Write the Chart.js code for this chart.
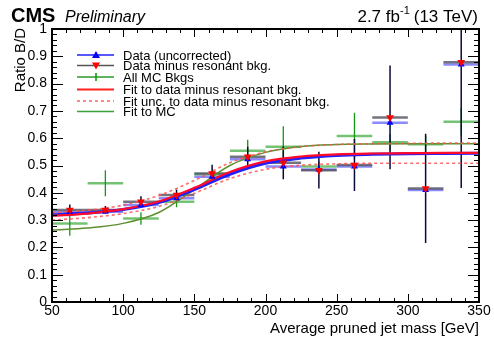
<!DOCTYPE html>
<html>
<head>
<meta charset="utf-8">
<script src="https://cdn.jsdelivr.net/npm/chart.js@4/dist/chart.umd.min.js"></script>
<style>
html, body { margin: 0; padding: 0; background: #fff; }
</style>
</head>
<body>
<canvas id="ratioChart" width="494" height="337"></canvas>
<script>
// bins of average pruned jet mass (GeV)
const binLow = [50, 75, 100, 125, 150, 175, 200, 225, 250, 275, 300, 325];
const binHigh = [75, 100, 125, 150, 175, 200, 225, 250, 275, 300, 325, 350];
const binCenter = [62.5, 87.5, 112.5, 137.5, 162.5, 187.5, 212.5, 237.5, 262.5, 287.5, 312.5, 337.5];

// ratio B/D values
const dataUncorr = [0.330, 0.331, 0.355, 0.380, 0.459, 0.523, 0.496, 0.485, 0.496, 0.657, 0.410, 0.870];
const dataMinusRes = [0.337, 0.337, 0.367, 0.392, 0.471, 0.532, 0.510, 0.483, 0.502, 0.676, 0.416, 0.878];
const dataErr = [0.020, 0.015, 0.020, 0.020, 0.032, 0.037, 0.060, 0.067, 0.095, 0.190, 0.200, 0.460];
const mcBkg = [0.288, 0.435, 0.306, 0.367, 0.468, 0.554, 0.569, 0.496, 0.608, 0.585, 0.578, 0.660];
const mcErr = [0.045, 0.048, 0.023, 0.020, 0.015, 0.040, 0.075, 0.020, 0.085, 0.030, 0.030, 0.050];

// fit curves
const fitMass = [50, 75, 100, 125, 150, 175, 200, 225, 250, 275, 300, 325, 350];
const fitData = [0.316, 0.324, 0.340, 0.368, 0.418, 0.476, 0.515, 0.533, 0.541, 0.544, 0.545, 0.546, 0.546];
const fitUncorr = [0.320, 0.326, 0.339, 0.364, 0.412, 0.468, 0.508, 0.527, 0.537, 0.541, 0.543, 0.544, 0.545];
const fitUp = [0.327, 0.336, 0.355, 0.390, 0.445, 0.510, 0.550, 0.569, 0.577, 0.580, 0.581, 0.582, 0.582];
const fitDown = [0.300, 0.309, 0.324, 0.350, 0.398, 0.452, 0.486, 0.501, 0.506, 0.508, 0.508, 0.508, 0.508];
const fitMC = [0.264, 0.271, 0.288, 0.328, 0.412, 0.500, 0.548, 0.570, 0.577, 0.579, 0.580, 0.580, 0.580];

// axis ticks
const xTicks = [50, 100, 150, 200, 250, 300, 350];
const yTicks = [0, 0.1, 0.2, 0.3, 0.4, 0.5, 0.6, 0.7, 0.8, 0.9, 1];

const FONT = '"Liberation Sans", Arial, Helvetica, sans-serif';

// helpers turning arrays into segment lists (null breaks the line)
function hBars(vals) {
    const pts = [];
    vals.forEach((v, i) => {
        pts.push({x: binLow[i], y: v}, {x: binHigh[i], y: v}, {x: binHigh[i], y: null});
    });
    return pts;
}
function vBars(vals, errs) {
    const pts = [];
    vals.forEach((v, i) => {
        pts.push({x: binCenter[i], y: v - errs[i]}, {x: binCenter[i], y: v + errs[i]}, {x: binCenter[i], y: null});
    });
    return pts;
}
function pts(xs, ys) {
    return xs.map((x, i) => ({x: x, y: ys[i]}));
}

function segLine(data, color, width, order) {
    return {data: data, showLine: true, borderColor: color, borderWidth: width,
        pointRadius: 0, spanGaps: false, order: order, tension: 0};
}
function curve(ys, color, width, dash, order) {
    return {data: pts(fitMass, ys), showLine: true, borderColor: color, borderWidth: width,
        borderDash: dash, pointRadius: 0, tension: 0.4, cubicInterpolationMode: 'monotone', order: order};
}

// frame, ticks, titles and legend in ROOT style
const rootStyle = {
    id: 'rootStyle',
    afterDraw(chart) {
        const c = chart.ctx;
        const a = chart.chartArea;
        const xs = chart.scales.x, ys = chart.scales.y;
        c.save();
        c.strokeStyle = '#000';
        c.lineWidth = 1;
        c.beginPath();
        for (let v = 50; v <= 350.001; v += 10) {
            const px = Math.round(xs.getPixelForValue(v)) + 0.5;
            const len = (v % 50 === 0) ? 8 : 4;
            c.moveTo(px, a.bottom); c.lineTo(px, a.bottom - len);
            c.moveTo(px, a.top); c.lineTo(px, a.top + len);
        }
        for (let k = 0; k <= 50; k++) {
            const py = Math.round(ys.getPixelForValue(k * 0.02)) + 0.5;
            const len = (k % 5 === 0) ? 11 : 5;
            c.moveTo(a.left, py); c.lineTo(a.left + len, py);
            c.moveTo(a.right, py); c.lineTo(a.right - len, py);
        }
        c.stroke();
        c.lineWidth = 2;
        c.strokeRect(a.left, a.top, a.right - a.left, a.bottom - a.top);

        // header texts
        c.fillStyle = '#000';
        c.textBaseline = 'alphabetic';
        c.textAlign = 'left';
        c.font = 'bold 20px ' + FONT;
        c.fillText('CMS', 11, 22);
        c.font = 'italic 16px ' + FONT;
        c.fillText('Preliminary', 65, 22);
        c.textAlign = 'right';
        c.font = '17px ' + FONT;
        c.fillText('(13 TeV)', 478, 22);
        const w1 = c.measureText('(13 TeV)').width;
        c.font = '11px ' + FONT;
        c.fillText('-1', 478 - w1 - 4, 14);
        const w2 = c.measureText('-1').width;
        c.font = '17px ' + FONT;
        c.fillText('2.7 fb', 478 - w1 - 4 - w2, 22);

        // axis titles
        c.font = '15px ' + FONT;
        c.textAlign = 'right';
        c.fillText('Average pruned jet mass [GeV]', a.right, 333);
        c.save();
        c.translate(25, 28);
        c.rotate(-Math.PI / 2);
        c.textAlign = 'right';
        c.fillText('Ratio B/D', 0, 0);
        c.restore();

        // legend
        const lx0 = 77, lx1 = 114, mx = 96, tx = 123;
        const rows = [55, 65.5, 77, 89.5, 101, 111.5];
        const labels = ['Data (uncorrected)', 'Data minus resonant bkg.', 'All MC Bkgs',
            'Fit to data minus resonant bkg.', 'Fit unc. to data minus resonant bkg.', 'Fit to MC'];
        const cols = ['#2020ff', '#555', '#2a9a2a', '#ff2020', 'rgba(255,70,70,0.85)', '#3aa03a'];
        rows.forEach((y, i) => {
            c.beginPath();
            c.strokeStyle = cols[i];
            c.lineWidth = i === 3 ? 2 : 1.5;
            c.setLineDash(i === 4 ? [3, 3] : []);
            c.moveTo(lx0, y); c.lineTo(lx1, y);
            c.stroke();
        });
        c.setLineDash([]);
        // markers
        c.fillStyle = '#0000ff';
        c.beginPath();
        c.moveTo(mx, rows[0] - 4); c.lineTo(mx + 4, rows[0] + 3); c.lineTo(mx - 4, rows[0] + 3); c.closePath(); c.fill();
        c.fillStyle = '#ff0000';
        c.beginPath();
        c.moveTo(mx, rows[1] + 4); c.lineTo(mx + 4, rows[1] - 3); c.lineTo(mx - 4, rows[1] - 3); c.closePath(); c.fill();
        c.strokeStyle = '#009900';
        c.lineWidth = 1.5;
        c.beginPath();
        c.moveTo(mx, rows[2] - 4); c.lineTo(mx, rows[2] + 4); c.stroke();
        c.fillStyle = '#000';
        c.textAlign = 'left';
        c.textBaseline = 'middle';
        c.font = '13px ' + FONT;
        labels.forEach((t, i) => c.fillText(t, tx, rows[i] + 1));
        c.restore();
    }
};

const ctx = document.getElementById('ratioChart').getContext('2d');
new Chart(ctx, {
    type: 'scatter',
    data: {
        datasets: [
            // markers on top
            {data: pts(binCenter, dataMinusRes), pointStyle: 'triangle', rotation: 180, pointRadius: 4.5,
                backgroundColor: '#ff0000', borderColor: '#ff0000', borderWidth: 0, order: 0},
            {data: pts(binCenter, dataUncorr), pointStyle: 'triangle', pointRadius: 4,
                backgroundColor: '#0000ff', borderColor: '#0000ff', borderWidth: 0, order: 1},
            curve(fitData, '#ff0a2a', 2.2, [], 2),
            curve(fitUncorr, '#2020ff', 3, [], 3),
            curve(fitUp, 'rgba(255,80,80,0.85)', 1.6, [3, 3], 4),
            curve(fitDown, 'rgba(255,80,80,0.85)', 1.6, [3, 3], 4),
            curve(fitMC, '#5e8f2e', 1.5, [], 5),
            segLine(vBars(dataMinusRes, dataErr), '#0a0a3a', 1.5, 6),
            segLine(hBars(dataMinusRes), 'rgba(80,80,95,0.8)', 2.5, 7),
            segLine(hBars(dataUncorr), 'rgba(100,100,255,0.75)', 2.5, 8),
            segLine(vBars(mcBkg, mcErr), '#119911', 1.3, 9),
            segLine(hBars(mcBkg), 'rgba(70,175,70,0.75)', 2.5, 10)
        ]
    },
    options: {
        responsive: false,
        animation: false,
        devicePixelRatio: 1,
        layout: {padding: {left: 0, right: 15, top: 29, bottom: 0}},
        plugins: {legend: {display: false}, tooltip: {enabled: false}},
        scales: {
            x: {
                type: 'linear', min: 50, max: 350,
                grid: {display: false, drawTicks: false},
                border: {display: false},
                afterFit: s => { s.height = 35; },
                afterBuildTicks: s => { s.ticks = xTicks.map(v => ({value: v})); },
                ticks: {padding: 1, color: '#000', font: {family: FONT, size: 14},
                    maxRotation: 0, callback: v => String(v)}
            },
            y: {
                type: 'linear', min: 0, max: 1,
                grid: {display: false, drawTicks: false},
                border: {display: false},
                afterFit: s => { s.width = 52; },
                afterBuildTicks: s => { s.ticks = yTicks.map(v => ({value: v})); },
                ticks: {padding: 5, color: '#000', font: {family: FONT, size: 14},
                    callback: v => (v === 0 || v === 1) ? String(v) : v.toFixed(1)}
            }
        }
    },
    plugins: [rootStyle]
});
</script>
</body>
</html>
